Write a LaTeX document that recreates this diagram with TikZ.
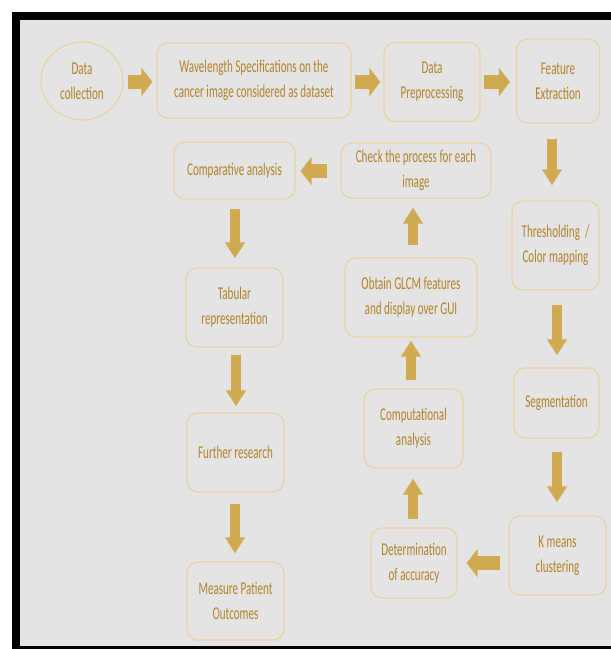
\documentclass[tikz,border=0pt]{standalone}
\usepackage{fontspec}
\setmainfont[FakeStretch=0.615]{Carlito}
\usetikzlibrary{arrows.meta,shapes.geometric}
\definecolor{bg}{RGB}{228,228,228}
\definecolor{bord}{RGB}{232,212,162}
\definecolor{txt}{RGB}{178,130,40}
\definecolor{arr}{RGB}{208,170,80}
\tikzset{
  box/.style={draw=bord, line width=1.2pt, rounded corners=11pt, align=center, text=txt,
    font=\fontsize{18}{25}\selectfont, inner sep=0pt},
  oval/.style={box, ellipse, rounded corners=0pt},
  harrow/.style={draw=arr, line width=14pt, -{Triangle[width=28pt,length=11pt]}},
  varrow/.style={draw=arr, line width=10pt, -{Triangle[width=19pt,length=16pt]}},
}
\begin{document}
\begin{tikzpicture}[x=1pt,y=-1pt]
\useasboundingbox (0,0) rectangle (611,649);
\fill[white] (0,0) rectangle (611,649);
\fill[black] (12,12) rectangle (611,649);
\fill[bg] (20,20) rectangle (611,646);

% top row
\node[oval, minimum width=82pt, minimum height=78pt] (dc) at (82,81) {Data\\collection};
\node[box, minimum width=194pt, minimum height=75pt] (wl) at (254,80.5) {Wavelength Specifications on the\\cancer image considered as dataset};
\node[box, minimum width=96pt, minimum height=79pt] (dp) at (432,82) {Data\\Preprocessing};
\node[box, minimum width=83pt, minimum height=84pt] (fe) at (558,81) {Feature\\Extraction};

% right column
\node[box, minimum width=87pt, minimum height=89pt] (th) at (555.5,245.5) {Thresholding~~/\\Color mapping};
\node[box, minimum width=85pt, minimum height=70pt] (sg) at (556.5,403) {Segmentation};
\node[box, minimum width=97pt, minimum height=79pt] (km) at (557.5,555.5) {K means\\clustering};

% middle column
\node[box, minimum width=86pt, minimum height=70pt] (da) at (414,563) {Determination\\of accuracy};
\node[box, minimum width=99pt, minimum height=79pt] (co) at (413.5,428.5) {Computational\\analysis};
\node[box, minimum width=132pt, minimum height=79pt] (gl) at (411,297.5) {Obtain GLCM features\\and display over GUI};
\node[box, minimum width=150pt, minimum height=55pt] (cp) at (416,170.5) {Check the process for each\\image};

% left column
\node[box, minimum width=121pt, minimum height=57pt] (ca) at (234.5,170.5) {Comparative analysis};
\node[box, minimum width=97pt, minimum height=79pt] (tr) at (234.5,307.5) {Tabular\\representation};
\node[box, minimum width=97pt, minimum height=79pt] (fr) at (235.5,452.5) {Further research};
\node[box, minimum width=97pt, minimum height=78pt] (mp) at (235.5,601) {Measure Patient\\Outcomes};

% horizontal arrows
\draw[harrow, shorten <=4pt, shorten >=4pt] (dc.east |- 0,82) -- (wl.west |- 0,82);
\draw[harrow, shorten <=3pt, shorten >=3pt] (wl.east |- 0,82) -- (dp.west |- 0,82);
\draw[harrow, shorten <=3pt, shorten >=6pt] (dp.east |- 0,82) -- (fe.west |- 0,82);
\draw[harrow, shorten <=13pt, shorten >=5pt] (cp.west |- 0,171) -- (ca.east |- 0,171);
\draw[harrow, shorten <=8pt, shorten >=9pt] (km.west |- 0,563) -- (da.east |- 0,563);

% vertical arrows
\draw[varrow, shorten <=15pt, shorten >=15pt] (fe.south -| 552,0) -- (th.north -| 552,0);
\draw[varrow, shorten <=14pt, shorten >=12pt] (th.south -| 557,0) -- (sg.north -| 557,0);
\draw[varrow, shorten <=13pt, shorten >=13pt] (sg.south -| 557,0) -- (km.north -| 557,0);
\draw[varrow, shorten <=9pt, shorten >=9pt] (ca.south -| 235,0) -- (tr.north -| 235,0);
\draw[varrow, shorten <=7pt, shorten >=6pt] (tr.south -| 236,0) -- (fr.north -| 236,0);
\draw[varrow, shorten <=11pt, shorten >=8pt] (fr.south -| 235,0) -- (mp.north -| 235,0);
\draw[varrow, shorten <=8pt, shorten >=10pt] (da.north -| 413,0) -- (co.south -| 413,0);
\draw[varrow, shorten <=8pt, shorten >=3pt] (co.north -| 411,0) -- (gl.south -| 411,0);
\draw[varrow, shorten <=12pt, shorten >=9pt] (gl.north -| 413,0) -- (cp.south -| 413,0);
\end{tikzpicture}
\end{document}
